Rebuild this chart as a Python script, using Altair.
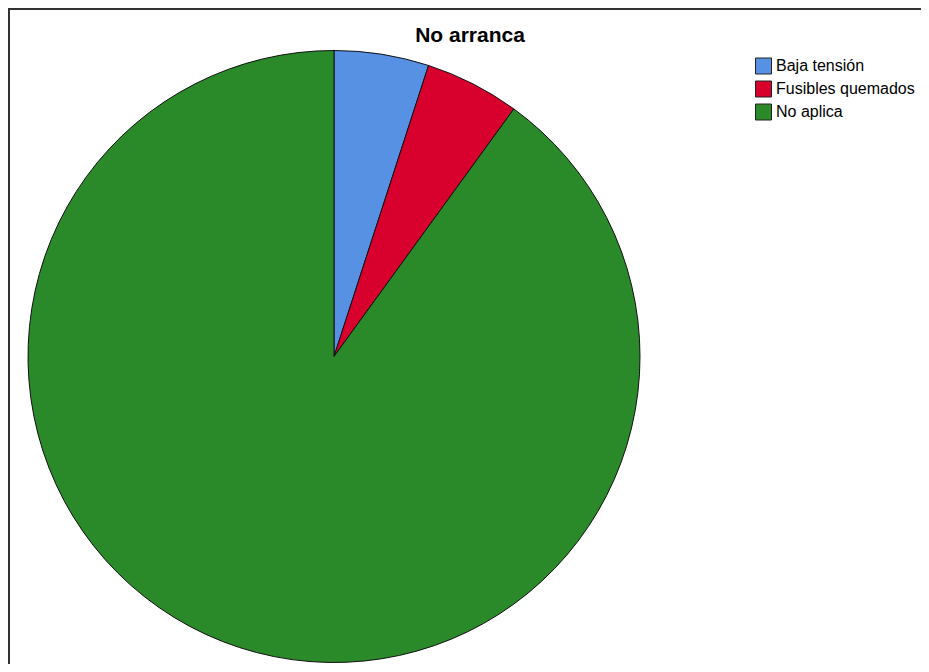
import altair as alt
import pandas as pd

categories = ["Baja tensión", "Fusibles quemados", "No aplica"]
values = [1, 1, 18]
colors = ["#5791e3", "#d8002c", "#2a8a2a"]

df = pd.DataFrame({"categoria": categories, "valor": values, "orden": list(range(len(categories)))})

W, H = 913, 656

pie = alt.Chart(df).mark_arc(radius=306, stroke="#111111", strokeWidth=1).encode(
    theta=alt.Theta("valor:Q", stack=True),
    order=alt.Order("orden:Q"),
    color=alt.Color(
        "categoria:N",
        sort=categories,
        scale=alt.Scale(domain=categories, range=colors),
        legend=alt.Legend(
            title=None,
            orient="none",
            legendX=747,
            legendY=49.5,
            symbolType="square",
            symbolSize=256,
            symbolStrokeColor="#222222",
            symbolStrokeWidth=1,
            symbolOpacity=1,
            labelFont="Liberation Sans",
            labelFontSize=16,
            labelColor="#000000",
            labelOffset=4,
            rowPadding=2,
            padding=0,
        ),
    ),
    x=alt.value(326),
    y=alt.value(348.5),
)

frame = pd.DataFrame({"k": [0]})
left_border = alt.Chart(frame).mark_rule(color="#333333", strokeWidth=2).encode(
    x=alt.value(1), y=alt.value(0), y2=alt.value(H)
)
top_border = alt.Chart(frame).mark_rule(color="#333333", strokeWidth=2).encode(
    x=alt.value(0), x2=alt.value(W), y=alt.value(1)
)

chart = alt.layer(pie, left_border, top_border).properties(
    width=W,
    height=H,
    padding=0,
    autosize=alt.AutoSizeParams(type="none"),
    title=alt.TitleParams(
        text="No arranca",
        font="Liberation Sans",
        fontSize=21,
        fontWeight="bold",
        color="#000000",
        anchor="middle",
        frame="group",
        offset=-38.5,
        dx=5.5,
    ),
).configure_view(stroke=None).configure(background="white")

chart.save("out.html", embed_options={"renderer": "svg", "actions": False})
